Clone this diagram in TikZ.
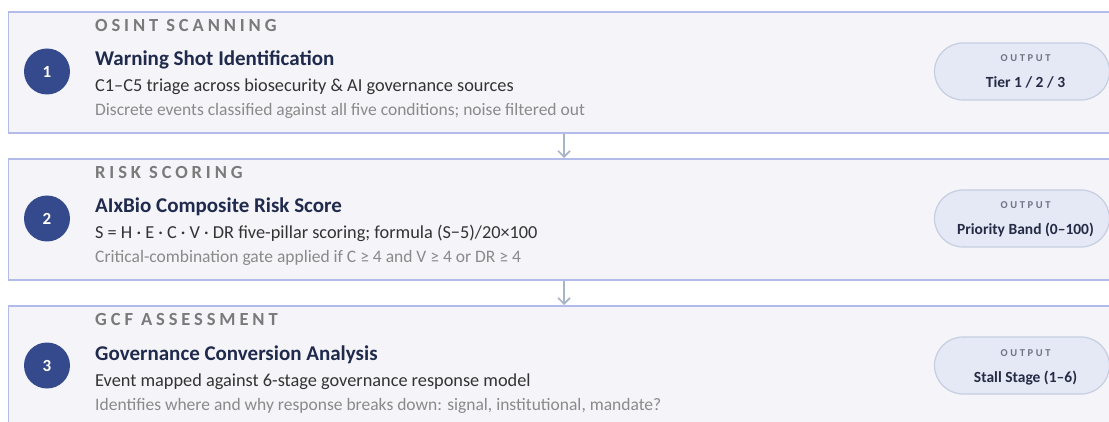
\documentclass[tikz,border=0pt]{standalone}
\usepackage{fontspec}
\setmainfont{Carlito}
\usetikzlibrary{arrows.meta,shapes.misc}
\definecolor{boxfill}{HTML}{F4F4F9}
\definecolor{boxline}{HTML}{B3BCE8}
\definecolor{navy}{HTML}{354A8C}
\definecolor{titlecol}{HTML}{1F2A4C}
\definecolor{subcol}{HTML}{333333}
\definecolor{notecol}{HTML}{8A8A8A}
\definecolor{labelcol}{HTML}{7A7A7A}
\definecolor{pillfill}{HTML}{E5E9F5}
\definecolor{pillline}{HTML}{C6CEE0}
\definecolor{arrowcol}{HTML}{A8B4C8}
\definecolor{pilllab}{HTML}{6E7485}
\definecolor{pilltext}{HTML}{252B45}
\begin{document}
\begin{tikzpicture}[x=1pt,y=-1pt,
  stagebox/.style={draw=boxline,fill=boxfill,line width=1.6pt,rectangle,minimum width=1130pt,minimum height=121pt,anchor=north west,inner sep=0pt},
  numcirc/.style={circle,fill=navy,minimum size=46pt,inner sep=0pt,text=white,font=\fontsize{17}{17}\selectfont\bfseries},
  steplabel/.style={anchor=base west,inner sep=0pt,text=labelcol,font=\fontsize{18.5}{18}\selectfont\bfseries\addfontfeature{LetterSpace=21}},
  steptitle/.style={anchor=base west,inner sep=0pt,text=titlecol,font=\fontsize{21}{21}\selectfont\bfseries},
  stepsub/.style={anchor=base west,inner sep=0pt,text=subcol,font=\fontsize{18.3}{18}\selectfont},
  stepnote/.style={anchor=base west,inner sep=0pt,text=notecol,font=\fontsize{17.5}{17}\selectfont},
  pill/.style={draw=pillline,fill=pillfill,line width=1.2pt,rounded rectangle,minimum width=175pt,minimum height=57pt,inner sep=0pt},
  pilllabel/.style={anchor=base,inner sep=0pt,text=pilllab,font=\fontsize{10.5}{10}\selectfont\bfseries\addfontfeature{LetterSpace=25}},
  pilltxt/.style={anchor=base,inner sep=0pt,text=pilltext,font=\fontsize{15.5}{15}\selectfont\bfseries},
  conn/.style={draw=arrowcol,line width=1.6pt,-{Straight Barb[length=6pt,width=12pt,line width=1.6pt]}}
]
\useasboundingbox[fill=white] (0,0) rectangle (1109,422);

% Stage 1
\node[stagebox] (b1) at (7.5,11) {};
\node[numcirc] (c1) at (47,71.5) {1};
\node[steplabel] (l1) at (95,32) {OSINT SCANNING};
\node[steptitle] (t1) at (95,66) {Warning Shot Identification};
\node[stepsub] (s1) at (95,92) {C1–C5 triage across biosecurity \& AI governance sources};
\node[stepnote] (n1) at (95,116) {Discrete events classified against all five conditions; noise filtered out};
\node[pill] (p1) at (1022,71.5) {};
\node[pilllabel] (pl1) at (1025.5,62) {OUTPUT};
\node[pilltxt] (pt1) at (1025.5,88) {Tier 1 / 2 / 3};

% Stage 2
\node[stagebox] (b2) at (7.5,158) {};
\node[numcirc] (c2) at (47,218.5) {2};
\node[steplabel] (l2) at (95,179) {RISK SCORING};
\node[steptitle] (t2) at (95,213) {AIxBio Composite Risk Score};
\node[stepsub] (s2) at (95,239) {S = H · E · C · V · DR five-pillar scoring; formula (S−5)/20×100};
\node[stepnote] (n2) at (95,263) {Critical-combination gate applied if C ≥ 4 and V ≥ 4 or DR ≥ 4};
\node[pill] (p2) at (1022,218.5) {};
\node[pilllabel] (pl2) at (1025.5,209) {OUTPUT};
\node[pilltxt] (pt2) at (1025.5,235) {Priority Band (0–100)};

% Stage 3
\node[stagebox] (b3) at (7.5,305) {};
\node[numcirc] (c3) at (47,365.5) {3};
\node[steplabel] (l3) at (95,326) {GCF ASSESSMENT};
\node[steptitle] (t3) at (95,360) {Governance Conversion Analysis};
\node[stepsub] (s3) at (95,386) {Event mapped against 6-stage governance response model};
\node[stepnote] (n3) at (95,410) {Identifies where and why response breaks down: signal, institutional, mandate?};
\node[pill] (p3) at (1022,365.5) {};
\node[pilllabel] (pl3) at (1025.5,356) {OUTPUT};
\node[pilltxt] (pt3) at (1025.5,382) {Stall Stage (1–6)};

% Connectors
\coordinate (ax) at (564,0);
\draw[conn] (ax |- b1.south) -- (ax |- b2.north);
\draw[conn] (ax |- b2.south) -- (ax |- b3.north);
\end{tikzpicture}
\end{document}
